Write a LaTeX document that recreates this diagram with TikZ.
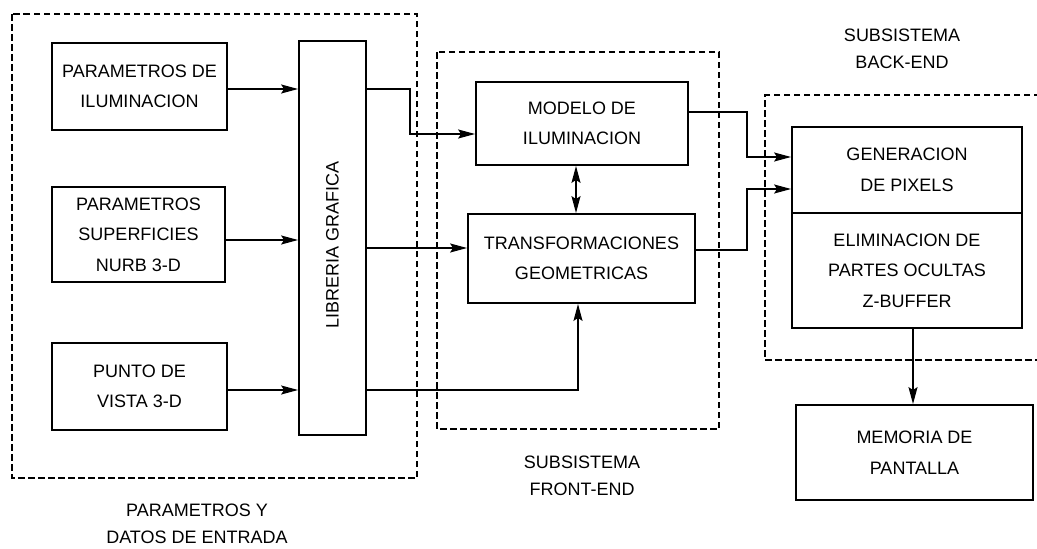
\documentclass[tikz,border=0pt]{standalone}
\usepackage{fontspec}
\setmainfont{Liberation Sans}
\usetikzlibrary{arrows.meta}
\begin{document}
\begin{tikzpicture}[x=1pt,y=-1pt,
  box/.style={draw, line width=1.8pt, align=center, inner sep=0pt, font=\fontsize{18}{30.5}\selectfont},
  lbl/.style={align=center, font=\fontsize{18}{27}\selectfont},
  tip/.tip={Stealth[length=17pt,width=9pt,inset=3pt]},
  conn/.style={line width=1.6pt, -tip},
  dconn/.style={line width=1.6pt, tip-tip},
  dbox/.style={line width=1.5pt, dash pattern=on 6.5pt off 3.5pt}]
\useasboundingbox (0,0) rectangle (1037,549);

% dashed groups
\draw[dbox] (12,14) rectangle (417,478);
\draw[dbox] (437,52) rectangle (719,429);
\draw[dbox] (1040,95) -- (765,95) -- (765,360) -- (1040,360);

% input boxes
\node[box, minimum width=175pt, minimum height=87pt] (pil) at (139.5,86.5) {PARAMETROS DE\\ILUMINACION};
\node[box, minimum width=173pt, minimum height=95pt] (psup) at (138.5,234.5) {PARAMETROS\\SUPERFICIES\\NURB 3-D};
\node[box, minimum width=175pt, minimum height=87pt] (pvis) at (139.5,386.5) {PUNTO DE\\VISTA 3-D};
\node[box, minimum width=67pt, minimum height=394pt] (lib) at (332.5,238) {};
\node[lbl, rotate=90] (libt) at (332.5,245) {LIBRERIA GRAFICA};

% front-end
\node[box, minimum width=212pt, minimum height=83pt] (mod) at (582,123.5) {MODELO DE\\ILUMINACION};
\node[box, minimum width=227pt, minimum height=89pt] (trans) at (581.5,258.5) {TRANSFORMACIONES\\GEOMETRICAS};

% back-end
\node[box, minimum width=230pt, minimum height=86pt] (gen) at (907,170) {GENERACION\\DE PIXELS};
\node[box, minimum width=230pt, minimum height=115pt] (elim) at (907,270.5) {ELIMINACION DE\\PARTES OCULTAS\\Z-BUFFER};
\node[box, minimum width=237pt, minimum height=95pt] (mem) at (914.5,452.5) {MEMORIA DE\\PANTALLA};

% labels
\node[lbl] (lback) at (902,49) {SUBSISTEMA\\BACK-END};
\node[lbl] (lfront) at (582,476) {SUBSISTEMA\\FRONT-END};
\node[lbl] (lin) at (197,524) {PARAMETROS Y\\DATOS DE ENTRADA};

% connectors
\draw[conn] (pil.east |- 0,89) -- (lib.west |- 0,89);
\draw[conn] (psup.east |- 0,240) -- (lib.west |- 0,240);
\draw[conn] (pvis.east |- 0,390) -- (lib.west |- 0,390);

\coordinate (k1) at (410,89);
\coordinate (k2) at (410,134);
\draw[conn] (lib.east |- k1) -- (k1) -- (k2) -- (mod.west |- k2);
\draw[conn] (lib.east |- 0,248) -- (trans.west |- 0,248);
\coordinate (k3) at (578,390);
\draw[conn] (lib.east |- k3) -- (k3) -- (trans.south -| k3);
\draw[dconn] (mod.south -| 576,0) -- (trans.north -| 576,0);

\coordinate (m1) at (747,112);
\coordinate (m2) at (747,157);
\draw[conn] (mod.east |- m1) -- (m1) -- (m2) -- (gen.west |- m2);
\coordinate (t1) at (747,250);
\coordinate (t2) at (747,189);
\draw[conn] (trans.east |- t1) -- (t1) -- (t2) -- (gen.west |- t2);

\draw[conn] (elim.south -| 913,0) -- (mem.north -| 913,0);
\end{tikzpicture}
\end{document}
